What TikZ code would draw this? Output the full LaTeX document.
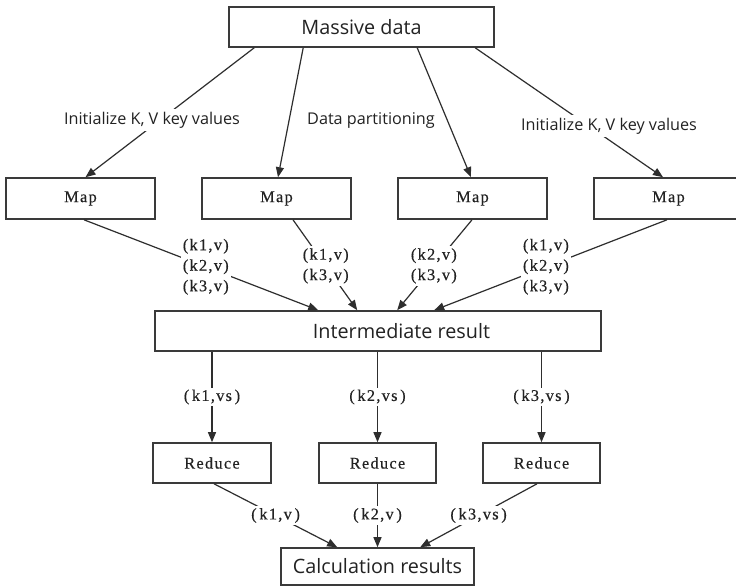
\documentclass[tikz,border=0pt]{standalone}
\usepackage{fontspec}
\setmainfont{Open Sans}
\newfontfamily\simlike[LetterSpace=8,FakeBold=0.4]{Liberation Serif}
\usetikzlibrary{arrows.meta,calc}
\definecolor{boxc}{HTML}{3A3A3A}
\definecolor{linec}{HTML}{2E2E2E}
\definecolor{txt}{HTML}{222222}
\tikzset{
  box/.style={draw=boxc, line width=1.6pt, fill=white, inner sep=0pt, text=txt},
  bigtext/.style={font=\fontsize{19.8}{23}\selectfont},
  midtext/.style={font=\fontsize{16.2}{19}\selectfont, text=txt},
  sertext/.style={font=\simlike\fontsize{16.3}{20.5}\selectfont, text=txt},
  arr/.style={draw=linec, line width=1.2pt, -{Triangle[length=10pt,width=8pt]}},
  lbl/.style={fill=white, inner sep=2pt, align=center, sertext},
  toplbl/.style={fill=white, inner sep=3pt, midtext},
}
\begin{document}
\begin{tikzpicture}[x=1pt,y=-1pt]
\useasboundingbox (0,0) rectangle (736,588);
\clip (0,0) rectangle (736,588);
\fill[white] (0,0) rectangle (736,588);
% boxes
\node[box, bigtext, minimum width=265pt, minimum height=40pt] (md) at (361.5,27) {Massive data};
\node[box, sertext, minimum width=149pt, minimum height=41pt] (map1) at (80.5,198.5) {Map};
\node[box, sertext, minimum width=149pt, minimum height=41pt] (map2) at (276.5,198.5) {Map};
\node[box, sertext, minimum width=149pt, minimum height=41pt] (map3) at (472.5,198.5) {Map};
\node[box, sertext, minimum width=149pt, minimum height=41pt] (map4) at (668.5,198.5) {Map};
\node[box, bigtext, minimum width=446pt, minimum height=40pt] (ir) at (378,331) {\hspace{47pt}Intermediate result};
\node[box, sertext, minimum width=118pt, minimum height=40pt] (red1) at (212,463) {Reduce};
\node[box, sertext, minimum width=117pt, minimum height=40pt] (red2) at (377.5,463) {Reduce};
\node[box, sertext, minimum width=117pt, minimum height=40pt] (red3) at (541.5,463) {Reduce};
\node[box, bigtext, minimum width=193pt, minimum height=37pt] (cr) at (377.5,566.5) {Calculation results};
% top connectors
\draw[arr] ($(md.south west)+(26,0)$) -- ($(map1.north)+(5,0)$);
\draw[arr] ($(md.south west)+(75,0)$) -- ($(map2.north)+(1.5,0)$);
\draw[arr] ($(md.south west)+(189,0)$) -- ($(map3.north)+(-1.5,0)$);
\draw[arr] ($(md.south west)+(247,0)$) -- ($(map4.north)+(-5.5,0)$);
\node[toplbl] (init1) at (152,120) {Initialize K, V key values};
\node[midtext] (dp) at (371,121) {Data partitioning};
\node[toplbl] (init2) at (609,126) {Initialize K, V key values};
% map -> intermediate
\draw[arr] ($(map1.south)+(3.5,0)$) -- node[lbl, pos=0.52] (la) {(k1,v)\\(k2,v)\\(k3,v)} ($(ir.north west)+(164,0)$);
\draw[arr] ($(map2.south)+(16.5,0)$) -- node[lbl, pos=0.51] (lb) {(k1,v)\\(k3,v)} ($(ir.north west)+(203,0)$);
\draw[arr] ($(map3.south)+(-0.5,0)$) -- node[lbl, pos=0.51] (lc) {(k2,v)\\(k3,v)} ($(ir.north west)+(243,0)$);
\draw[arr] ($(map4.south)+(-1.5,0)$) -- node[lbl, pos=0.52] (ld) {(k1,v)\\(k2,v)\\(k3,v)} ($(ir.north west)+(280,0)$);
% intermediate -> reduce
\draw[arr] (ir.south -| red1.north) -- node[lbl] (lr1) {(\,k1,vs\,)} (red1.north);
\draw[arr] (ir.south -| red2.north) -- node[lbl] (lr2) {(\,k2,vs\,)} (red2.north);
\draw[arr] (ir.south -| red3.north) -- node[lbl] (lr3) {(\,k3,vs\,)} (red3.north);
% reduce -> results
\draw[arr] ($(red1.south)+(2,0)$) -- node[lbl] (lf1) {(\,k1,v\,)} ($(cr.north west)+(57,0)$);
\draw[arr] (red2.south) -- node[lbl] (lf2) {(\,k2,v\,)} (cr.north);
\draw[arr] ($(red3.south)+(-4.5,0)$) -- node[lbl] (lf3) {(\,k3,vs\,)} ($(cr.north west)+(140,0)$);
\end{tikzpicture}
\end{document}
